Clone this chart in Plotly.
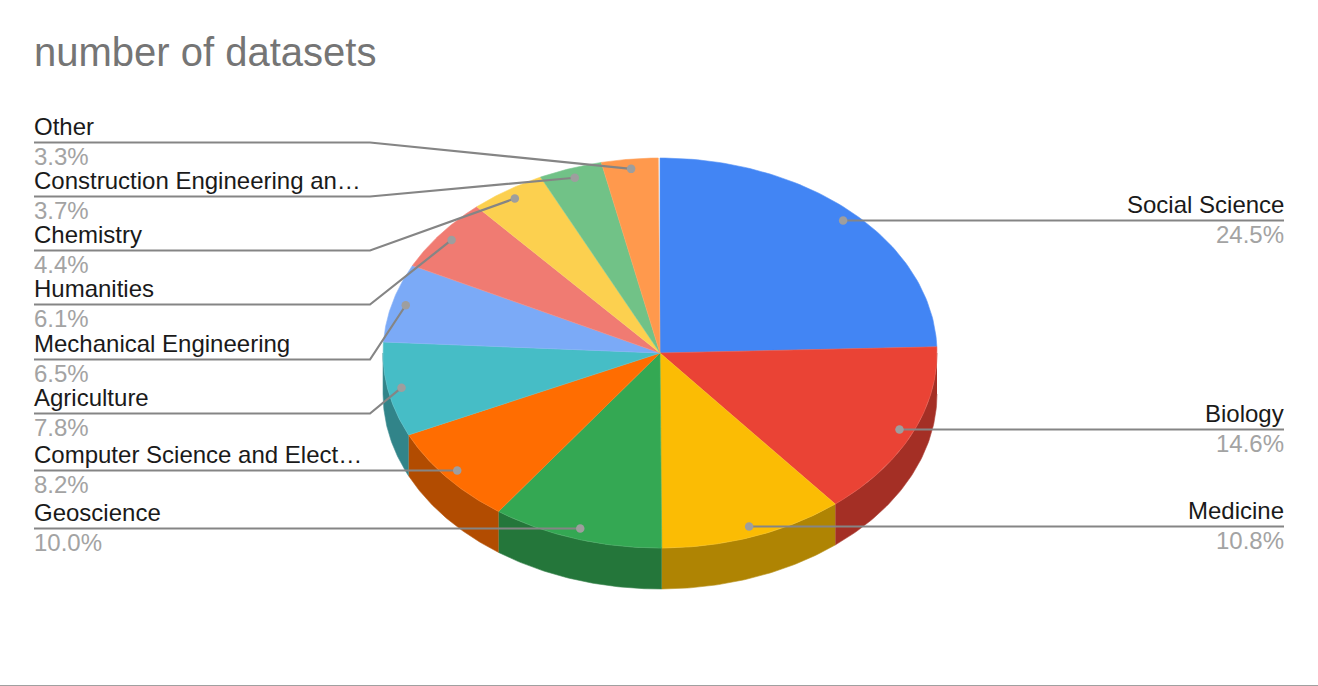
import numpy as np
import plotly.graph_objects as go

# slices in clockwise order from 12 o'clock
categories = ["Social Science", "Biology", "Medicine", "Geoscience",
              "Computer Science and Electrical Engineering", "Agriculture",
              "Mechanical Engineering", "Humanities", "Chemistry",
              "Construction Engineering and Management", "Other"]
shown_names = ["Social Science", "Biology", "Medicine", "Geoscience",
               "Computer Science and Elect\u2026", "Agriculture",
               "Mechanical Engineering", "Humanities", "Chemistry",
               "Construction Engineering an\u2026", "Other"]
shares = [24.5, 14.6, 10.8, 10.0, 8.2, 7.8, 6.5, 6.1, 4.4, 3.7, 3.3]
colors = ["#4285f4", "#ea4335", "#fbbc04", "#34a853", "#ff6d01", "#46bdc6",
          "#7baaf7", "#f07b72", "#fcd04f", "#71c287", "#ff994d"]
wall_colors = ["#2e5dab", "#a42f25", "#af8403", "#24763a", "#b24c01", "#318489",
               "#5677ad", "#a85650", "#b09237", "#4f885f", "#b26b36"]
label_rows = [220.5, 429.5, 526.5, 528.5, 470.5, 413.5, 359.5, 304.5, 250.5, 196.5, 142.5]

CX, CY, RX, RY, DEPTH = 660, 353, 277, 195, 41
DOT_R = 0.95
LEFT_X, ELBOW_X, RIGHT_X = 34, 370, 1284
FONT = "Liberation Sans, Arial, sans-serif"


def ellipse(deg, scale=1.0):
    a = np.radians(deg)
    return CX + RX * scale * np.sin(a), CY - RY * scale * np.cos(a)


def tint(col, amount=0.12):
    # opaque lighter edge, a see-through one lets white show between slices
    rgb = [int(col[i:i + 2], 16) for i in (1, 3, 5)]
    return "rgb({},{},{})".format(*[round(c + (255 - c) * amount) for c in rgb])


fig = go.Figure()

edges = np.concatenate([[0], np.cumsum(shares)]) * 3.6

# side wall, only the part facing the viewer
for start, end, col in zip(edges[:-1], edges[1:], wall_colors):
    a, b = max(start, 90), min(end, 270)
    if a >= b:
        continue
    xs, ys = ellipse(np.linspace(a, b, 60))
    fig.add_trace(go.Scatter(x=np.concatenate([xs, xs[::-1]]),
                             y=np.concatenate([ys, ys[::-1] + DEPTH]),
                             mode="lines", fill="toself", fillcolor=col,
                             line=dict(color=tint(col), width=0.6),
                             hoverinfo="skip"))

# top face
for name, share, start, end, col in zip(categories, shares, edges[:-1], edges[1:], colors):
    xs, ys = ellipse(np.linspace(start, end, 80))
    fig.add_trace(go.Scatter(x=np.concatenate([[CX], xs, [CX]]),
                             y=np.concatenate([[CY], ys, [CY]]),
                             mode="lines", fill="toself", fillcolor=col,
                             line=dict(color=tint(col), width=0.6),
                             name=name, text=f"{name}: {share}%", hoverinfo="text"))

# leader lines and labels
annotations = []
for name, share, start, end, row in zip(shown_names, shares, edges[:-1], edges[1:], label_rows):
    mid = (start + end) / 2
    dot_x, dot_y = ellipse(mid, DOT_R)
    right_side = mid < 180
    if right_side:
        line_x, line_y = [dot_x, RIGHT_X], [row, row]
    elif abs(dot_y - row) < 3:
        line_x, line_y = [LEFT_X, dot_x], [row, row]
    else:
        line_x, line_y = [LEFT_X, ELBOW_X, dot_x], [row, row, dot_y]
    fig.add_trace(go.Scatter(x=line_x, y=line_y, mode="lines",
                             line=dict(color="#858585", width=2.2), hoverinfo="skip"))
    fig.add_trace(go.Scatter(x=[dot_x], y=[line_y[0] if right_side else line_y[-1]],
                             mode="markers", marker=dict(color="#9e9e9e", size=8.5),
                             hoverinfo="skip"))
    x = RIGHT_X if right_side else LEFT_X
    anchor = "right" if right_side else "left"
    annotations.append(dict(x=x, y=row, text=name, showarrow=False, xanchor=anchor,
                            yanchor="bottom", yshift=3, borderpad=0, borderwidth=0,
                            font=dict(family=FONT, size=24, color="#1a1a1a")))
    annotations.append(dict(x=x, y=row, text=f"{share:.1f}%", showarrow=False, xanchor=anchor,
                            yanchor="top", yshift=0, borderpad=0, borderwidth=0,
                            font=dict(family=FONT, size=24, color="#a3a3a3")))

fig.update_layout(
    width=1318, height=686,
    margin=dict(l=0, r=0, t=0, b=0),
    paper_bgcolor="white", plot_bgcolor="white",
    showlegend=False,
    title=dict(text="number of datasets", x=34 / 1318, xanchor="left",
               y=1 - 52 / 686, yanchor="middle",
               font=dict(family=FONT, size=40, color="#757575")),
    xaxis=dict(range=[0, 1318], visible=False, fixedrange=True),
    yaxis=dict(range=[686, 0], visible=False, fixedrange=True),
    annotations=annotations,
    shapes=[dict(type="line", xref="paper", yref="y", x0=0, x1=1, y0=685.5, y1=685.5,
                 line=dict(color="#a0a0a0", width=1))],
)

fig.write_html("out.html", config=dict(displayModeBar=False),
               post_script="document.body.style.margin='0';document.documentElement.style.overflow='hidden';")
